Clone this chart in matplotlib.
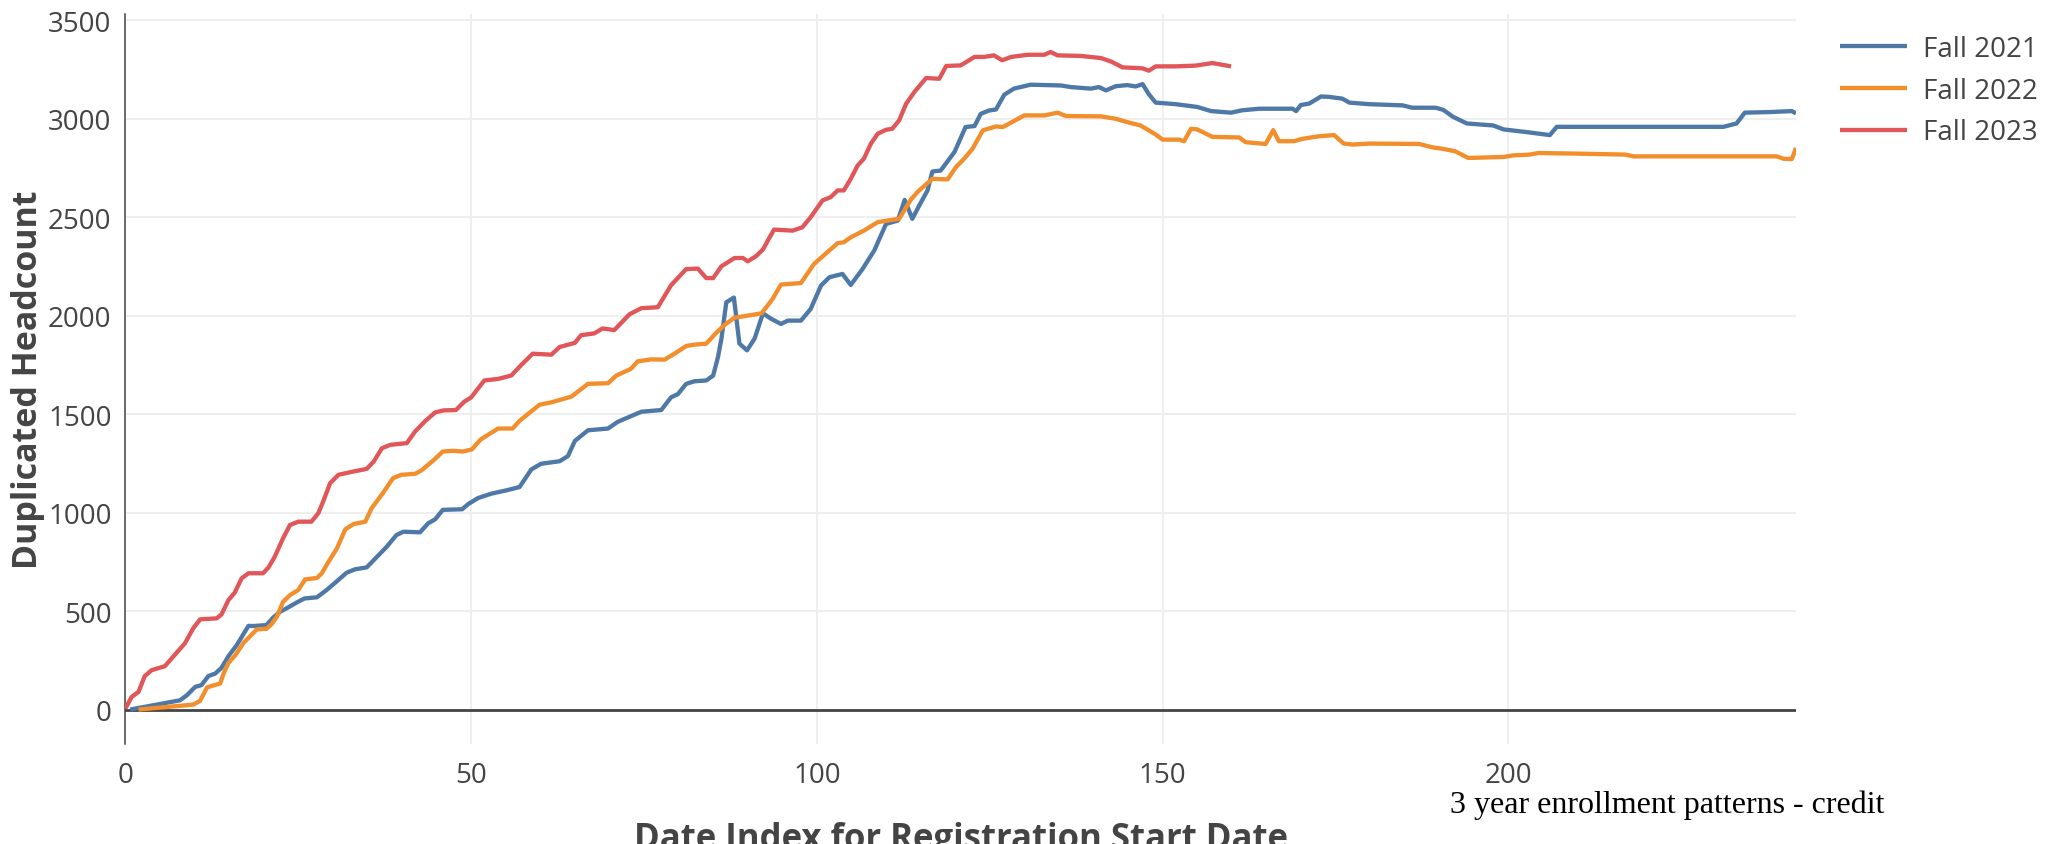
import matplotlib
matplotlib.use("Agg")
import matplotlib.pyplot as plt

# ---------------- data ----------------
series_names = ["Fall 2021", "Fall 2022", "Fall 2023"]
series_colors = ["#4e79a7", "#f28e2b", "#e15759"]

x_2021 = [0.7, 7.9, 8.9, 10.1, 11.0, 12.0, 13.0, 13.9, 14.9, 16.1, 17.8, 18.5, 20.4, 21.4, 22.4, 23.3,
          24.8, 25.9, 27.7, 29.1, 30.5, 32.0, 33.2, 34.9, 36.3, 37.8, 39.2, 40.2, 42.6, 43.8, 44.8,
          45.9, 48.7, 49.6, 51.0, 52.9, 55.1, 57.0, 58.7, 60.1, 62.8, 64.0, 65.0, 66.9, 69.8, 71.2,
          74.6, 77.5, 78.9, 79.9, 81.1, 82.3, 84.0, 85.0, 85.7, 86.2, 86.9, 88.0, 88.8, 89.9, 91.0,
          92.2, 93.3, 94.8, 95.8, 97.7, 99.1, 100.6, 101.8, 103.7, 104.9, 106.6, 108.3, 110.0,
          111.7, 112.7, 113.8, 114.8, 116.0, 116.7, 117.9, 119.9, 121.5, 122.8, 123.7, 124.9,
          125.9, 127.1, 128.5, 130.9, 135.3, 136.7, 139.6, 140.8, 141.8, 143.2, 144.9, 146.1,
          147.1, 148.0, 149.0, 151.9, 155.0, 157.0, 159.9, 161.5, 164.0, 168.8, 169.3, 170.0,
          171.2, 172.9, 174.1, 176.0, 177.0, 179.9, 184.7, 186.1, 189.5, 190.6, 192.0, 194.0,
          197.8, 199.3, 202.7, 206.0, 207.0, 231.1, 233.0, 234.2, 237.8, 241.0, 241.6]
y_2021 = [0, 47, 73, 115, 124, 170, 183, 212, 271, 327, 425, 424, 429, 468, 497, 514,
          544, 564, 570, 607, 649, 695, 712, 722, 773, 827, 886, 903, 900, 946, 966,
          1014, 1017, 1044, 1074, 1096, 1113, 1130, 1219, 1248, 1261, 1287, 1364, 1418, 1427, 1461,
          1512, 1521, 1585, 1602, 1654, 1667, 1671, 1696, 1790, 1884, 2068, 2092, 1858, 1824, 1884,
          2012, 1986, 1958, 1975, 1975, 2034, 2153, 2195, 2212, 2156, 2237, 2331, 2466,
          2483, 2588, 2492, 2559, 2636, 2732, 2737, 2831, 2958, 2963, 3025, 3042,
          3047, 3122, 3153, 3173, 3169, 3161, 3153, 3161, 3144, 3165, 3171, 3164,
          3176, 3125, 3082, 3074, 3060, 3039, 3031, 3043, 3051, 3051, 3039, 3070,
          3077, 3113, 3111, 3102, 3082, 3074, 3068, 3056, 3056, 3045, 3010, 2976,
          2966, 2946, 2932, 2917, 2959, 2959, 2976, 3031, 3034, 3039, 3027]

x_2022 = [1.9, 9.8, 10.8, 11.8, 12.5, 13.7, 14.2, 14.9, 15.9, 17.1, 19.0, 20.4, 21.1, 21.9, 22.8,
          23.8, 25.0, 26.0, 27.7, 28.4, 29.3, 30.6, 31.8, 33.0, 34.7, 35.6, 37.3, 38.7, 39.9, 41.9,
          42.8, 44.5, 45.9, 47.4, 48.8, 50.1, 51.4, 53.9, 56.0, 57.0, 59.9, 61.6, 64.5, 66.9, 69.8,
          71.0, 73.1, 74.1, 76.0, 78.0, 79.4, 81.1, 82.3, 84.0, 85.2, 86.6, 88.1, 90.5, 92.0, 93.6,
          94.8, 97.7, 99.6, 101.5, 103.0, 103.9, 104.9, 106.8, 108.8, 110.2, 111.9, 113.6, 114.6,
          116.7, 118.9, 120.1, 121.3, 122.5, 124.0, 125.9, 126.9, 130.0, 132.9, 134.8, 136.0,
          141.1, 143.2, 145.2, 146.8, 149.0, 150.0, 152.4, 153.1, 154.1, 155.0, 157.2, 161.1,
          162.0, 164.9, 166.0, 166.8, 169.0, 170.2, 172.6, 174.8, 176.2, 177.5, 179.9, 187.1,
          189.0, 190.6, 192.3, 194.2, 199.3, 200.7, 203.1, 204.3, 209.9, 216.9, 218.1, 229.2,
          238.8, 239.8, 241.0, 241.6]
y_2022 = [0, 25, 44, 112, 120, 132, 183, 237, 276, 339, 407, 410, 432, 471, 547,
          581, 607, 661, 668, 692, 746, 819, 915, 942, 954, 1022, 1102, 1175, 1192, 1197,
          1214, 1264, 1310, 1314, 1310, 1321, 1372, 1427, 1427, 1466, 1548, 1560, 1589, 1654, 1657,
          1696, 1730, 1768, 1778, 1777, 1807, 1846, 1853, 1858, 1904, 1952, 1990, 2003, 2012, 2085,
          2158, 2166, 2263, 2322, 2368, 2373, 2398, 2432, 2475, 2483, 2492, 2590, 2630,
          2695, 2692, 2754, 2797, 2847, 2941, 2961, 2958, 3017, 3017, 3031, 3014,
          3012, 3000, 2980, 2966, 2920, 2894, 2894, 2886, 2949, 2946, 2908, 2905,
          2881, 2872, 2942, 2886, 2886, 2898, 2911, 2917, 2874, 2869, 2874, 2872,
          2855, 2847, 2835, 2801, 2806, 2814, 2818, 2826, 2823, 2818, 2809, 2809,
          2809, 2797, 2795, 2852]

x_2023 = [0, 0.9, 1.9, 2.8, 3.8, 5.7, 6.9, 8.6, 9.8, 10.8, 13.2, 13.9, 14.9, 15.8, 16.8, 17.8,
          19.9, 20.7, 21.6, 22.8, 23.8, 25.0, 26.9, 27.9, 28.6, 29.6, 30.8, 33.0, 34.9, 35.9,
          37.1, 38.3, 40.7, 41.9, 43.3, 44.8, 46.0, 47.8, 49.0, 50.0, 51.9, 53.9, 55.8, 57.2,
          58.9, 61.6, 62.8, 65.0, 65.9, 67.8, 69.0, 70.7, 72.9, 74.6, 77.0, 78.9, 81.1, 82.8,
          84.0, 85.0, 86.2, 88.1, 89.3, 90.0, 91.2, 92.2, 92.9, 93.8, 96.5, 97.9, 99.1, 100.8,
          102.0, 103.0, 103.9, 104.9, 105.9, 106.8, 107.8, 108.8, 110.0, 110.9, 111.9, 112.9,
          114.1, 115.8, 117.7, 118.7, 120.8, 122.8, 124.2, 125.6, 126.8, 128.1, 130.5, 132.9,
          133.8, 134.8, 138.2, 141.1, 142.6, 144.2, 147.1, 148.0, 149.0, 151.9, 154.8, 157.2,
          159.9]
y_2023 = [5, 64, 90, 170, 200, 220, 268, 336, 412, 458, 463, 483, 556, 593, 666, 692,
          692, 722, 776, 870, 937, 954, 954, 997, 1056, 1149, 1192, 1209, 1222, 1259,
          1327, 1344, 1353, 1412, 1463, 1509, 1519, 1521, 1563, 1585, 1671, 1679, 1696, 1748,
          1807, 1802, 1841, 1862, 1901, 1910, 1935, 1927, 2007, 2038, 2043, 2154, 2237, 2239,
          2191, 2191, 2251, 2293, 2293, 2276, 2302, 2336, 2381, 2437, 2432, 2449, 2500, 2585,
          2602, 2636, 2636, 2695, 2763, 2797, 2873, 2924, 2944, 2949, 2992, 3076,
          3136, 3207, 3203, 3268, 3271, 3314, 3314, 3322, 3297, 3314, 3325, 3325,
          3339, 3322, 3319, 3308, 3290, 3261, 3256, 3244, 3266, 3266, 3270, 3283,
          3266]

x_ticks = [0, 50, 100, 150, 200]
y_ticks = [0, 500, 1000, 1500, 2000, 2500, 3000, 3500]
x_title = "Date Index for Registration Start Date"
y_title = "Duplicated Headcount"
caption = "3 year enrollment patterns - credit"

# ---------------- figure ----------------
W, H = 2048, 845
fig = plt.figure(figsize=(W / 100, H / 100), dpi=100)
ax = fig.add_axes([125.4 / W, 1 - 745 / H, 1670.6 / W, (745 - 14.6) / H])

font = "Open Sans"
txt_color = "#444444"

for xs, ys, name, col in zip([x_2021, x_2022, x_2023], [y_2021, y_2022, y_2023],
                             series_names, series_colors):
    ax.plot(xs, ys, color=col, lw=3.1, label=name, solid_joinstyle="round",
            solid_capstyle="butt", zorder=3)

ax.set_xlim(0, max(x_2021))
ax.set_ylim(-175, 3534)
ax.set_xticks(x_ticks)
ax.set_yticks(y_ticks)
ax.grid(True, color="#eeeeee", lw=1.3, zorder=0)
ax.set_axisbelow(True)
ax.axhline(0, color="#444444", lw=2.0, zorder=2)

for s in ["top", "right", "bottom"]:
    ax.spines[s].set_visible(False)
ax.spines["left"].set_color("#444444")
ax.spines["left"].set_linewidth(1.1)

ax.tick_params(axis="both", length=0, labelsize=20, labelcolor=txt_color)
ax.tick_params(axis="y", pad=10)
ax.tick_params(axis="x", pad=12)
for lab in ax.get_xticklabels() + ax.get_yticklabels():
    lab.set_fontfamily(font)

ax.set_xlabel(x_title, fontfamily=font, fontweight="bold", fontsize=25,
              color=txt_color, labelpad=23)
ax.set_ylabel(y_title, fontfamily=font, fontweight="bold", fontsize=24.5,
              color=txt_color)
ax.yaxis.set_label_coords((45 - 125.4) / 1670.6, 0.5)

leg = ax.legend(loc="upper left", bbox_to_anchor=(1840 / W, 1 - 36 / H),
                bbox_transform=fig.transFigure, frameon=False, borderpad=0,
                borderaxespad=0, handlelength=2.4, handletextpad=0.6,
                labelspacing=0.49, prop={"family": font, "size": 20})
for t in leg.get_texts():
    t.set_color(txt_color)

fig.text(1450 / W, 1 - 805 / H, caption, fontfamily="Liberation Serif",
         fontsize=23, color="black", ha="left", va="center")

fig.savefig("out.png", dpi=100)
